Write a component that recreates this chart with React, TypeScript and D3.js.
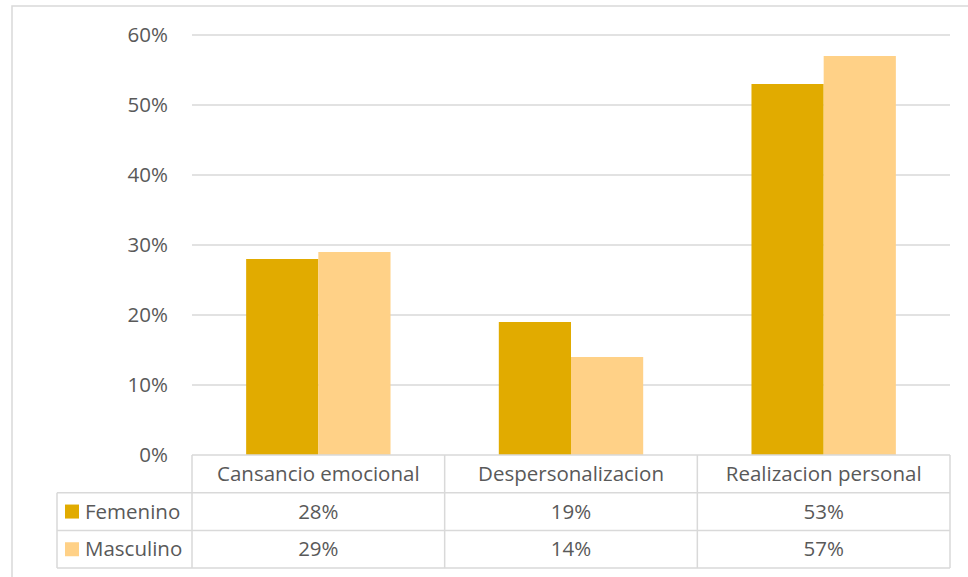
import React from "react";
import * as d3 from "d3";

const categories = ["Cansancio emocional", "Despersonalizacion", "Realizacion personal"];
const seriesNames = ["Femenino", "Masculino"];
const femenino = [0.28, 0.19, 0.53];
const masculino = [0.29, 0.14, 0.57];
const yTicks = [0, 0.1, 0.2, 0.3, 0.4, 0.5, 0.6];
const colors = ["#E1AB00", "#FFD187"];

const W = 968;
const H = 577;
const plotLeft = 192;
const plotRight = 950;
const plotTop = 35;
const plotBottom = 455;
const rowH = 37.7;
const legendLeft = 57;
const textColor = "#595959";
const gridColor = "#D9D9D9";
const font = "'Open Sans', 'Noto Sans', sans-serif";
const fontSize = 20.5;

export default function App() {
  const y = d3.scaleLinear().domain([0, 0.6]).range([plotBottom, plotTop]);
  const x = d3.scaleBand<string>().domain(categories).range([plotLeft, plotRight]).padding(0);
  const step = x.bandwidth();
  const barW = step / 3.5;
  const inner = d3
    .scaleBand<string>()
    .domain(seriesNames)
    .range([0, barW * 2])
    .padding(0);
  const values = [femenino, masculino];
  const fmt = d3.format(".0%");

  const rowTops = [plotBottom, plotBottom + rowH, plotBottom + 2 * rowH];
  const tableBottom = plotBottom + 3 * rowH;

  return (
    <svg width={W} height={H} style={{ position: "absolute", left: 0, top: 0 }}>
      <rect x={0} y={0} width={W} height={H} fill="#fff" />
      <rect x={12} y={6} width={W + 20} height={H + 20} fill="#fff" stroke={gridColor} strokeWidth={1.5} />

      {yTicks.filter((t) => t > 0).map((t) => (
        <line key={t} x1={plotLeft} x2={plotRight} y1={y(t)} y2={y(t)} stroke={gridColor} strokeWidth={1.5} />
      ))}
      {yTicks.map((t) => (
        <text
          key={"l" + t}
          x={168}
          y={y(t)}
          dy="0.35em"
          textAnchor="end"
          fontFamily={font}
          fontSize={fontSize}
          fill={textColor}
        >
          {fmt(t)}
        </text>
      ))}

      {categories.map((c, i) => {
        const x0 = (x(c) as number) + (step - barW * 2) / 2;
        return seriesNames.map((s, j) => (
          <rect
            key={c + s}
            x={x0 + (inner(s) as number)}
            y={y(values[j][i])}
            width={inner.bandwidth()}
            height={plotBottom - y(values[j][i])}
            fill={colors[j]}
          />
        ));
      })}

      {/* data table */}
      <g stroke={gridColor} strokeWidth={1.5} fill="none">
        <line x1={plotLeft} x2={plotRight} y1={rowTops[0]} y2={rowTops[0]} />
        <line x1={legendLeft} x2={plotRight} y1={rowTops[1]} y2={rowTops[1]} />
        <line x1={legendLeft} x2={plotRight} y1={rowTops[2]} y2={rowTops[2]} />
        <line x1={legendLeft} x2={plotRight} y1={tableBottom} y2={tableBottom} />
        <line x1={legendLeft} x2={legendLeft} y1={rowTops[1]} y2={tableBottom} />
        {categories.map((c) => (
          <line key={c} x1={x(c) as number} x2={x(c) as number} y1={rowTops[0]} y2={tableBottom} />
        ))}
        <line x1={plotRight} x2={plotRight} y1={rowTops[0]} y2={tableBottom} />
      </g>
      {categories.map((c) => (
        <text
          key={"h" + c}
          x={(x(c) as number) + step / 2}
          y={rowTops[0] + rowH / 2}
          dy="0.35em"
          textAnchor="middle"
          fontFamily={font}
          fontSize={fontSize}
          fill={textColor}
        >
          {c}
        </text>
      ))}
      {seriesNames.map((s, j) => (
        <g key={"r" + s}>
          <rect x={65} y={rowTops[j + 1] + rowH / 2 - 7} width={14} height={14} fill={colors[j]} />
          <text
            x={85}
            y={rowTops[j + 1] + rowH / 2}
            dy="0.35em"
            fontFamily={font}
            fontSize={fontSize}
            fill={textColor}
          >
            {s}
          </text>
          {categories.map((c, i) => (
            <text
              key={c}
              x={(x(c) as number) + step / 2}
              y={rowTops[j + 1] + rowH / 2}
              dy="0.35em"
              textAnchor="middle"
              fontFamily={font}
              fontSize={fontSize}
              fill={textColor}
            >
              {fmt(values[j][i])}
            </text>
          ))}
        </g>
      ))}
    </svg>
  );
}
